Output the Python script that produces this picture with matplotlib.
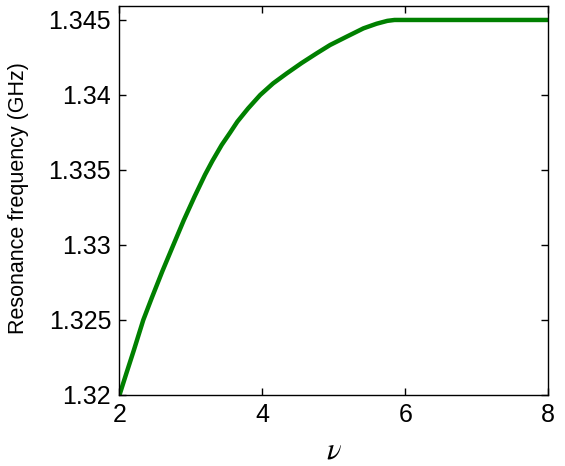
import matplotlib
matplotlib.use("Agg")
import matplotlib.pyplot as plt

nu = [2.0, 2.1, 2.2, 2.333, 2.45, 2.6, 2.754, 2.9, 3.05, 3.197,
      3.3, 3.431, 3.55, 3.65, 3.80, 3.97, 4.15, 4.342, 4.55, 4.762,
      4.948, 5.182, 5.415, 5.60, 5.75, 5.85, 8.0]
freq = [1.3200, 1.32150, 1.32297, 1.3250, 1.32645, 1.32825, 1.3300, 1.33165, 1.33322, 1.33468,
        1.33560, 1.33667, 1.33750, 1.33822, 1.33910, 1.3400, 1.34077, 1.34144, 1.34213, 1.34278,
        1.34333, 1.34389, 1.34444, 1.34475, 1.34494, 1.3450, 1.3450]
xticks = [2, 4, 6, 8]
yticks = [1.32, 1.325, 1.33, 1.335, 1.34, 1.345]
ytick_labels = ["1.32", "1.325", "1.33", "1.335", "1.34", "1.345"]

plt.rcParams['font.family'] = ['Liberation Sans', 'DejaVu Sans']
fig = plt.figure(figsize=(5.65, 4.66), dpi=100)
ax = fig.add_axes([0.2115, 0.1524, 0.7585, 0.8347])

ax.plot(nu, freq, color=(0, 0.5, 0), linewidth=3.2, solid_joinstyle='round')
ax.set_xlim(2, 8)
ax.set_ylim(1.32, 1.34593)
ax.set_xticks(xticks)
ax.set_xticklabels([str(t) for t in xticks])
ax.set_yticks(yticks)
ax.set_yticklabels(ytick_labels)
ax.tick_params(direction='in', length=5, width=1, top=True, right=True,
               labelsize=18, pad=6)
for s in ax.spines.values():
    s.set_linewidth(1)
ax.set_ylabel("Resonance frequency (GHz)", fontsize=15.5)
ax.yaxis.set_label_coords(-0.211, 0.506)
ax.set_xlabel(r"$\nu$", fontsize=22, labelpad=6, math_fontfamily='stix')

fig.savefig("out.png", dpi=100)
